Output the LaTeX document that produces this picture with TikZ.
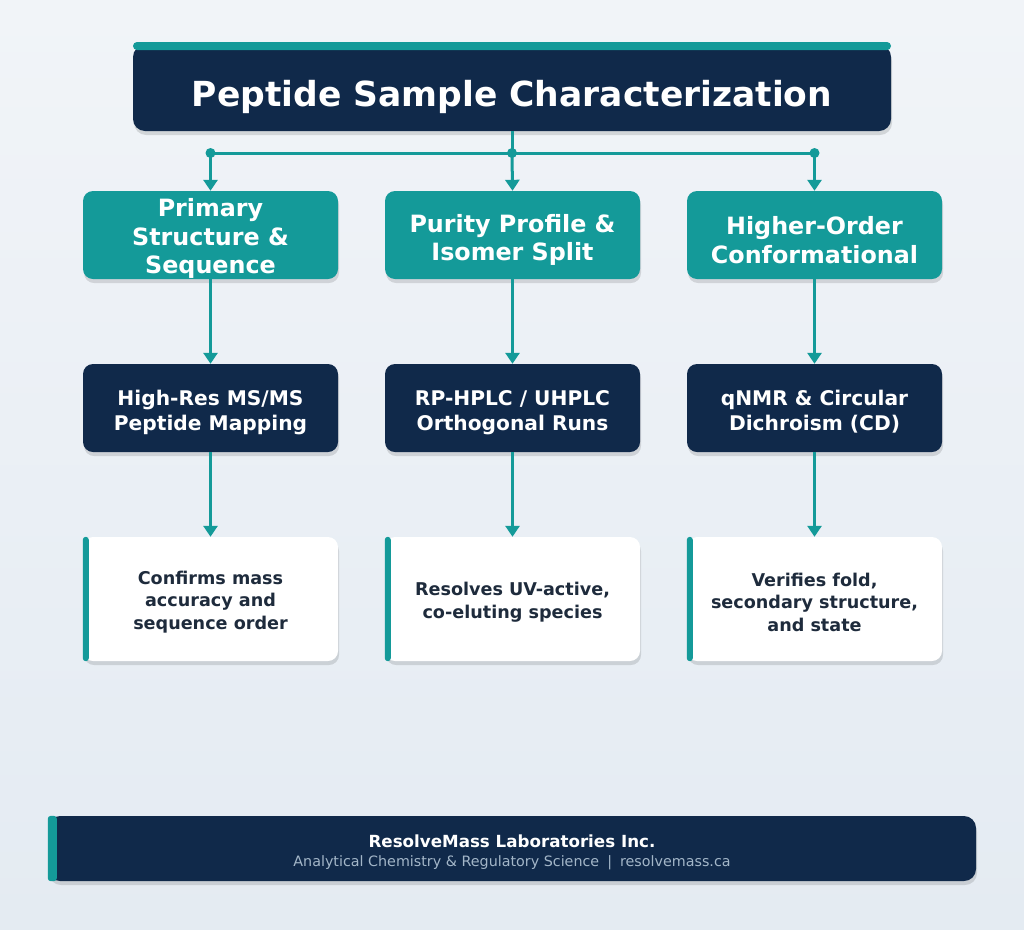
\documentclass[tikz,border=0pt]{standalone}
\usepackage{fontspec}
\setmainfont{DejaVu Sans}
\usetikzlibrary{arrows.meta,shadows}
\definecolor{navy}{HTML}{10294A}
\definecolor{tealc}{HTML}{149A99}
\definecolor{bgtop}{HTML}{F1F4F8}
\definecolor{bgbot}{HTML}{E4EBF2}
\definecolor{inktext}{HTML}{1E2B3C}
\definecolor{subtext}{HTML}{A3B6C8}
% strut on the first line, to sit the text a little lower in its box
\newcommand{\padtop}[1]{\rule{0pt}{#1}}
\tikzset{
  box/.style={rounded corners=10pt, minimum width=255pt, minimum height=88pt,
    align=center, text=white, inner sep=0pt,
    drop shadow={shadow xshift=1pt, shadow yshift=-4pt, opacity=0.12, fill=black}},
  cat/.style={box, fill=tealc, font=\fontsize{23.8}{28.5}\selectfont\bfseries},
  method/.style={box, fill=navy, font=\fontsize{20.2}{25}\selectfont\bfseries},
  note/.style={box, fill=white, minimum height=124pt, text=inktext,
    font=\fontsize{17.6}{22.5}\selectfont\bfseries},
  conn/.style={draw=tealc, line width=3pt},
  arr/.style={conn, -{Triangle[width=14pt,length=11pt]}},
  dot/.style={fill=tealc},
}
\begin{document}
\begin{tikzpicture}[x=1pt,y=-1pt]
  \useasboundingbox (0,0) rectangle (1024,929);
  \shade[top color=bgtop, bottom color=bgbot] (0,0) rectangle (1024,929);
  % title
  \node[box, fill=navy, minimum width=758pt, minimum height=86pt, rounded corners=12pt,
    font=\fontsize{34.5}{40}\selectfont\bfseries] (title) at (512,88)
    {\padtop{44pt}Peptide Sample Characterization};
  \fill[tealc, rounded corners=4pt] (133,42) rectangle (891,50);
  % tiers
  \node[cat] (p1) at (210.5,235) {\padtop{25pt}Primary\\Structure \&\\Sequence};
  \node[cat] (p2) at (512.5,235) {\padtop{28pt}Purity Profile \&\\Isomer Split};
  \node[cat] (p3) at (814.5,235) {\padtop{28pt}Higher-Order\\Conformational};
  \node[method] (m1) at (210.5,408) {\padtop{23.5pt}High-Res MS/MS\\Peptide Mapping};
  \node[method] (m2) at (512.5,408) {\padtop{23.5pt}RP-HPLC / UHPLC\\Orthogonal Runs};
  \node[method] (m3) at (814.5,408) {\padtop{23.5pt}qNMR \& Circular\\Dichroism (CD)};
  \node[note] (n1) at (210.5,599) {\padtop{19.5pt}Confirms mass\\accuracy and\\sequence order};
  \node[note] (n2) at (512.5,599) {\padtop{19.5pt}Resolves UV-active,\\co-eluting species};
  \node[note] (n3) at (814.5,599) {\padtop{19.5pt}Verifies fold,\\secondary structure,\\and state};
  \foreach \i in {1,2,3}
    \fill[tealc, rounded corners=3pt] (n\i.north west) rectangle ([xshift=6pt]n\i.south west);
  % connectors
  \coordinate (jl) at (p1.north |- 0,153);
  \coordinate (jm) at (title.south |- 0,153);
  \coordinate (jr) at (p3.north |- 0,153);
  \draw[conn] (title.south) -- (jm);
  \draw[conn] (jl) -- (jr);
  \foreach \j/\p in {jl/p1,jm/p2,jr/p3} {
    \draw[arr] (\j) -- (\p.north);
    \fill[dot] (\j) circle (5pt);
  }
  \foreach \i in {1,2,3} {
    \draw[arr] (p\i.south) -- (m\i.north);
    \draw[arr] (m\i.south) -- (n\i.north);
  }
  % footer
  \node[box, fill=navy, minimum width=928pt, minimum height=65pt, rounded corners=12pt] (foot) at (512,848.5) {};
  \fill[tealc, rounded corners=3pt] (foot.north west) rectangle ([xshift=9pt]foot.south west);
  \node[text=white, font=\fontsize{16.7}{20}\selectfont\bfseries] (fname) at (512,841) {ResolveMass Laboratories Inc.};
  \node[text=subtext, font=\fontsize{14.3}{17}\selectfont] (fsub) at (512,863)
    {Analytical Chemistry \& Regulatory Science\hspace{8pt}|\hspace{8pt}resolvemass.ca};
\end{tikzpicture}
\end{document}
